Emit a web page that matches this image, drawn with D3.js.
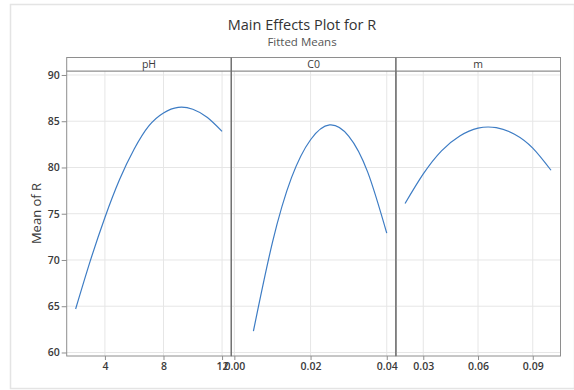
<!DOCTYPE html>
<html>
<head>
<meta charset="utf-8">
<script src="https://cdn.jsdelivr.net/npm/d3@7"></script>
<style>
  html, body { margin: 0; padding: 0; background: #fff; }
  svg { display: block; font-family: "Open Sans", "Noto Sans", sans-serif; }
</style>
</head>
<body>
<svg id="chart" width="574" height="390"></svg>
<script>
// Factor names shown in the panel strips
const factors = ["pH", "C0", "m"];

// Fitted means of R for each factor level
const phLevels = [2, 3, 4, 5, 6, 7, 8, 9, 10, 11, 12];
const phMeans  = [64.7, 69.9, 74.6, 78.7, 82.0, 84.5, 85.9, 86.5, 86.3, 85.4, 83.9];

const c0Levels = [0.005, 0.010, 0.015, 0.020, 0.025, 0.030, 0.035, 0.040];
const c0Means  = [62.3, 71.9, 78.9, 83.0, 84.6, 83.4, 79.5, 72.9];

const mLevels = [0.02, 0.03, 0.04, 0.05, 0.06, 0.07, 0.08, 0.09, 0.10];
const mMeans  = [76.1, 79.3, 81.8, 83.4, 84.25, 84.3, 83.6, 82.1, 79.7];

// Axis ticks and limits
const phTicks = [4, 8, 12];
const c0Ticks = [0.00, 0.02, 0.04];
const mTicks  = [0.03, 0.06, 0.09];
const phLimits = [1.39, 12.63];
const c0Limits = [-0.0008, 0.0424];
const mLimits  = [0.0150, 0.1052];

const yTicks = [60, 65, 70, 75, 80, 85, 90];
const yLimits = [59.62, 90.43];

const panels = [
  { name: factors[0], levels: phLevels, means: phMeans, ticks: phTicks, limits: phLimits, fmt: d3.format("d") },
  { name: factors[1], levels: c0Levels, means: c0Means, ticks: c0Ticks, limits: c0Limits, fmt: d3.format(".2f") },
  { name: factors[2], levels: mLevels,  means: mMeans,  ticks: mTicks,  limits: mLimits,  fmt: d3.format(".2f") }
];

const svg = d3.select("#chart");
const W = 574, H = 390;

// Layout
const left = 66.7, right = 560.5;
const stripTop = 57.5, stripH = 13.5;
const plotTop = stripTop + stripH, plotBottom = 356;
const panelW = (right - left) / panels.length;

const textColor = "#3a3a3a";
const frameColor = "#8e8e8e";
const gridColor = "#e6e6e6";
const lineColor = "#3d7cc4";

// Light outer frame
svg.append("rect")
  .attr("x", 10.5).attr("y", 4.5)
  .attr("width", W - 10).attr("height", 384)
  .attr("fill", "none").attr("stroke", "#e4e4e4").attr("stroke-width", 1.5);

// Titles
svg.append("text")
  .attr("x", 302).attr("y", 30)
  .attr("text-anchor", "middle")
  .attr("font-size", 14.5).attr("fill", "#333")
  .text("Main Effects Plot for R");
svg.append("text")
  .attr("x", 302).attr("y", 46)
  .attr("text-anchor", "middle")
  .attr("font-size", 11.5).attr("fill", "#555")
  .text("Fitted Means");

// Shared y scale
const y = d3.scaleLinear().domain(yLimits).range([plotBottom, plotTop]);

// Y axis label
svg.append("text")
  .attr("transform", `translate(41,${(plotTop + plotBottom) / 2}) rotate(-90)`)
  .attr("text-anchor", "middle")
  .attr("font-size", 13).attr("fill", textColor)
  .text("Mean of R");

panels.forEach((p, i) => {
  const x0 = left + i * panelW, x1 = x0 + panelW;
  const x = d3.scaleLinear().domain(p.limits).range([x0, x1]);
  const g = svg.append("g");

  // Gridlines
  g.selectAll(".gy").data(yTicks).join("line")
    .attr("x1", x0).attr("x2", x1)
    .attr("y1", d => y(d)).attr("y2", d => y(d))
    .attr("stroke", gridColor).attr("stroke-width", 1);
  g.selectAll(".gx").data(p.ticks).join("line")
    .attr("x1", d => x(d)).attr("x2", d => x(d))
    .attr("y1", plotTop).attr("y2", plotBottom)
    .attr("stroke", gridColor).attr("stroke-width", 1);

  // Bottom axis
  const xAxis = d3.axisBottom(x).tickValues(p.ticks).tickFormat(p.fmt).tickSize(4).tickPadding(3);
  const ax = g.append("g").attr("transform", `translate(0,${plotBottom})`).call(xAxis);
  ax.select(".domain").remove();
  ax.selectAll(".tick line").attr("stroke", frameColor);
  ax.selectAll(".tick text").attr("font-size", 10.5).attr("fill", textColor)
    .attr("font-family", "'Open Sans', sans-serif").attr("font-weight", 600);

  // Fitted mean curve
  const pts = p.levels.map((v, k) => [v, p.means[k]]);
  g.append("path")
    .datum(pts)
    .attr("fill", "none")
    .attr("stroke", lineColor)
    .attr("stroke-width", 1.2)
    .attr("d", d3.line().x(d => x(d[0])).y(d => y(d[1])).curve(d3.curveNatural));

  // Panel frame
  g.append("rect")
    .attr("x", x0).attr("y", plotTop)
    .attr("width", panelW).attr("height", plotBottom - plotTop)
    .attr("fill", "none").attr("stroke", frameColor).attr("stroke-width", 1);

  // Strip
  g.append("rect")
    .attr("x", x0).attr("y", stripTop)
    .attr("width", panelW).attr("height", stripH)
    .attr("fill", "#fff").attr("stroke", frameColor).attr("stroke-width", 1);
  g.append("text")
    .attr("x", (x0 + x1) / 2).attr("y", stripTop + stripH - 3)
    .attr("text-anchor", "middle")
    .attr("font-size", 10.5).attr("fill", textColor)
    .text(p.name);
});

// Panel dividers drawn slightly darker
d3.range(1, panels.length).forEach(i => {
  svg.append("line")
    .attr("x1", left + i * panelW).attr("x2", left + i * panelW)
    .attr("y1", stripTop).attr("y2", plotBottom)
    .attr("stroke", "#6f6f6f").attr("stroke-width", 1.2);
});

// Left y axis
const yAxis = d3.axisLeft(y).tickValues(yTicks).tickSize(5).tickPadding(2);
const ya = svg.append("g").attr("transform", `translate(${left},0)`).call(yAxis);
ya.select(".domain").remove();
ya.selectAll(".tick line").attr("stroke", frameColor);
ya.selectAll(".tick text").attr("font-size", 10.5).attr("fill", textColor)
  .attr("font-family", "'Open Sans', sans-serif").attr("font-weight", 600);
</script>
</body>
</html>
